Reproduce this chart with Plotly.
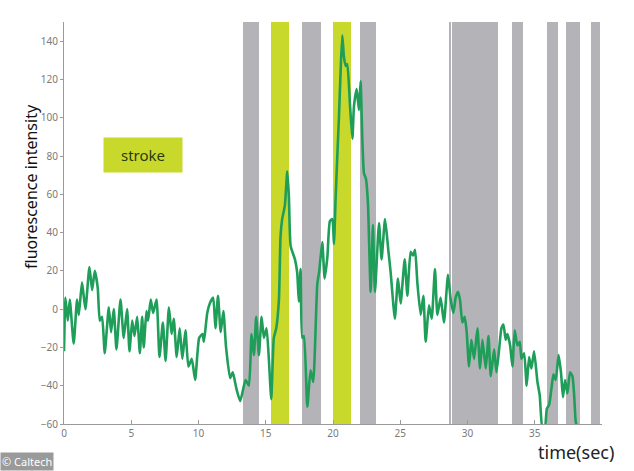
import plotly.graph_objects as go

# ---- data ----
time_s = [0.0, 0.05, 0.1, 0.28, 0.43, 0.72, 0.97, 1.1, 1.34, 1.59, 1.89, 2.09, 2.29, 2.51, 2.66, 2.83,
          3.03, 3.33, 3.5, 3.7, 3.9, 4.2, 4.44, 4.69, 4.87, 5.07, 5.24, 5.44, 5.64, 5.81, 5.93, 6.13,
          6.25, 6.45, 6.63, 6.88, 7.1, 7.35, 7.55, 7.8, 8.0, 8.16, 8.38, 8.6, 8.8, 9.03, 9.25, 9.5,
          9.75, 10.05, 10.3, 10.4, 10.65, 10.84, 11.09, 11.26, 11.45, 11.65, 11.85, 12.05, 12.35, 12.55,
          12.8, 13.1, 13.5, 13.75, 13.94, 14.12, 14.29, 14.49, 14.69, 14.86, 15.06, 15.23, 15.41, 15.6,
          15.78, 15.98, 16.1, 16.22, 16.42, 16.6, 16.72, 16.85, 17.17, 17.34, 17.46, 17.59, 17.71, 17.84,
          18.09, 18.33, 18.53, 18.83, 18.98, 19.2, 19.38, 19.58, 19.77, 19.95, 20.07, 20.19, 20.32, 20.44,
          20.57, 20.69, 20.81, 20.94, 21.06, 21.26, 21.44, 21.56, 21.76, 21.93, 22.05, 22.18, 22.3, 22.45,
          22.6, 22.8, 22.97, 23.12, 23.42, 23.61, 23.87, 24.11, 24.29, 24.6, 24.83, 25.03, 25.33, 25.53,
          25.77, 25.95, 26.1, 26.27, 26.52, 26.72, 26.89, 27.14, 27.34, 27.58, 27.76, 28.0, 28.25, 28.55,
          28.75, 28.95, 29.12, 29.29, 29.44, 29.62, 29.79, 29.94, 30.11, 30.29, 30.49, 30.74, 30.93, 31.11,
          31.36, 31.56, 31.73, 31.98, 32.15, 32.35, 32.52, 32.67, 32.84, 32.97, 33.17, 33.34, 33.51, 33.71,
          33.89, 34.01, 34.21, 34.4, 34.58, 34.75, 34.95, 35.2, 35.37, 35.57, 35.75, 35.9, 36.07, 36.25,
          36.39, 36.56, 36.77, 36.95, 37.1, 37.25, 37.43, 37.62, 37.8, 37.93, 38.05, 38.18]
intensity = [-22, -5, 6, -6, 5, -18, 5, -3, 14, 0, 22, 10, 20, 11, -6, -4,
             -23, 1, -12, 0, -21, 5, -15, 0, -22, -6, -14, -4, -23, -4, -20, -1,
             -6, 5, -2, 5, -25, -7, -27, 1, -13, -5, -25, -10, -26, -11, -30, -26,
             -37, -15, -13, -17, -2, 3, 6, -10, 7, -12, -1, -20, -36, -33,
             -41, -48, -37, -40, -13, -24, -4, -24, -4, -15, -10, -26, -47, -15,
             -10, 5, 38, 47, 54, 72, 59, 33, 26, 19, 4, 21, -15, -14,
             -51, -32, -38, 13, 20, 35, 16, 27, 46, 47, 34, 57, 80, 100,
             125, 143, 132, 127, 128, 107, 89, 106, 115, 104, 119, 89, 71, 68,
             55, 9, 44, 9, 45, 26, 47, 31, 19, -5, 16, 3, 26, 7,
             30, 28, 31, 14, -3, 7, -17, 2, -5, 21, -3, 6, -7, 18,
             5, -2, 6, 9, 5, -7, -4, -12, -30, -16, -26, -10, -31, -16,
             -31, -14, -35, -21, -33, -21, -10, -8, -16, -13, -19, -30, -11, -19,
             -17, -26, -23, -40, -25, -31, -22, -38, -45, -62, -62, -52, -50, -41,
             -34, -37, -24, -33, -46, -37, -44, -33, -35, -45, -59, -62]

gray_start = [13.30, 17.66, 22.00, 28.68, 28.86, 33.34, 35.94, 37.31, 39.17]
gray_end = [14.52, 19.13, 23.19, 28.78, 32.27, 34.16, 36.76, 38.37, 39.84]
stroke_start = [15.36, 20.02]
stroke_end = [16.72, 21.36]

y_min, y_max = -60, 150
x_min, x_max = 0, 40
x_ticks = [0, 5, 10, 15, 20, 25, 30, 35]
y_ticks = [-60, -40, -20, 0, 20, 40, 60, 80, 100, 120, 140]

GRAY = "#b4b4b8"
YELLOW = "#c8d92c"
GREEN = "#1f9e5a"
AXIS = "#9a9a9a"

fig = go.Figure()


def add_bands(starts, ends, color):
    fig.add_trace(go.Bar(
        x=[(s + e) / 2 for s, e in zip(starts, ends)],
        y=[y_max - y_min] * len(starts),
        base=[y_min] * len(starts),
        width=[e - s for s, e in zip(starts, ends)],
        marker=dict(color=color, line=dict(width=0)),
        showlegend=False, hoverinfo="skip",
    ))


add_bands(gray_start, gray_end, GRAY)
add_bands(stroke_start, stroke_end, YELLOW)

fig.add_trace(go.Scatter(
    x=time_s, y=intensity, mode="lines",
    line=dict(color=GREEN, width=2.6, shape="spline", smoothing=0.5),
    showlegend=False,
))

fig.update_layout(
    width=634, height=471,
    margin=dict(l=64, r=32, t=22, b=47),
    paper_bgcolor="white", plot_bgcolor="white",
    barmode="overlay", bargap=0,
    font=dict(family="Noto Sans, Open Sans, sans-serif"),
    xaxis=dict(range=[x_min, x_max], tickvals=x_ticks, showgrid=False, zeroline=False,
               showline=True, linecolor=AXIS, linewidth=1, ticks="inside", ticklen=4,
               tickcolor=AXIS, tickfont=dict(size=10, color="#7a7a7a")),
    yaxis=dict(range=[y_min, y_max], tickvals=y_ticks, showgrid=False, zeroline=False,
               showline=True, linecolor=AXIS, linewidth=1, ticks="outside", ticklen=3,
               tickcolor=AXIS, tickfont=dict(size=10, color="#7a7a7a")),
    annotations=[
        dict(text="fluorescence intensity", textangle=-90, xref="paper", yref="paper",
             x=-0.061, y=0.59, xanchor="center", yanchor="middle", showarrow=False,
             font=dict(size=16, color="#111111")),
        dict(text="stroke", xref="paper", yref="paper", x=0.147, y=0.67,
             xanchor="center", yanchor="middle", showarrow=False,
             bgcolor=YELLOW, width=72, height=28, borderpad=3, align="center",
             font=dict(size=15, color="#2b3a12")),
        dict(text="time(sec)", xref="paper", yref="paper", x=0.952, y=-0.069,
             xanchor="center", yanchor="middle", showarrow=False,
             font=dict(size=18, color="#222222")),
        dict(text="© Caltech", xref="paper", yref="paper", x=-0.119, y=-0.116,
             xanchor="left", yanchor="bottom", showarrow=False,
             bgcolor="rgba(120,120,120,0.75)", borderpad=1,
             font=dict(size=11, color="white")),
    ],
)

fig.write_html("out.html", config={"displayModeBar": False},
               post_script="document.body.style.margin='0px';")
